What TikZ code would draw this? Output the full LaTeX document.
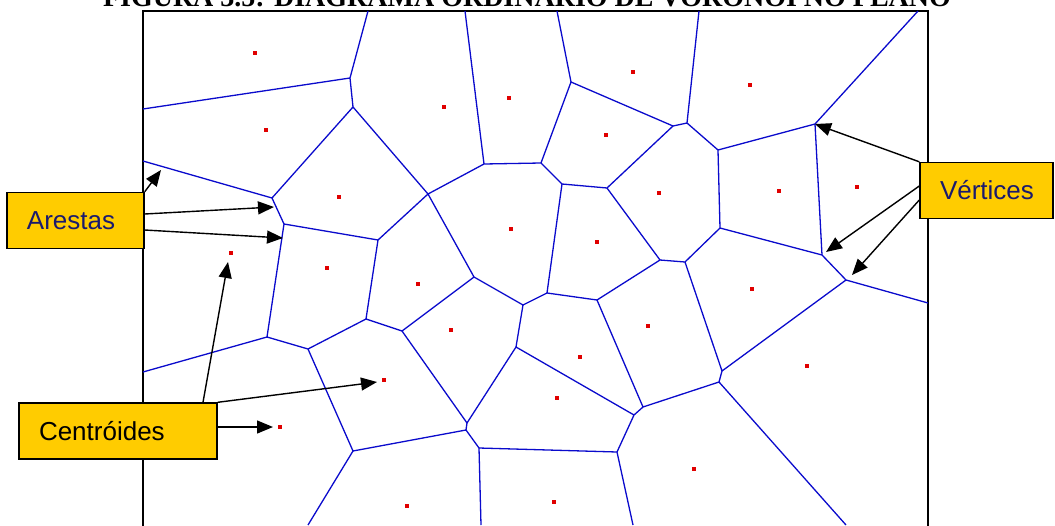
\documentclass[tikz,border=0pt]{standalone}
\usepackage{fontspec}
\setmainfont{Liberation Sans}
\newfontfamily\titlefont{Liberation Serif}
\usetikzlibrary{arrows.meta,positioning}
\usepackage{xcolor}
\definecolor{gold}{HTML}{FFCC00}
\definecolor{navy}{HTML}{1A1A6E}
\definecolor{cellblue}{HTML}{0A0ACC}
\definecolor{seedred}{HTML}{E00000}

\begin{document}
\begin{tikzpicture}[x=1pt, y=-1pt,
      edge/.style={cellblue, line width=1.3pt},
      seed/.style={fill=seedred, minimum size=4.5pt, inner sep=0pt},
      tag/.style={draw=black, line width=1.4pt, fill=gold, minimum height=56pt,
                  inner xsep=20pt, align=left, font=\fontsize{26}{30}\selectfont},
      arr/.style={-{Triangle[length=16pt,width=13pt]}, line width=1.4pt, black}
    ]
      \useasboundingbox (0,0) rectangle (1055,525);

      % title, cut at the top
      \node[font=\titlefont\bfseries\fontsize{28}{32}\selectfont, anchor=base, inner sep=0pt]
        (title) at (527,6) {FIGURA 3.5: DIAGRAMA ORDINÁRIO DE VORONOI NO PLANO};

      \draw[line width=1.6pt] (143,11) rectangle (928,545);

      % Voronoi vertices
      \coordinate (a) at (350,78);   \coordinate (b) at (353,107);
      \coordinate (c) at (484,164);  \coordinate (d) at (272,198);
      \coordinate (e) at (428,194);  \coordinate (f) at (284,224);
      \coordinate (g) at (378,240);  \coordinate (h) at (571,82);
      \coordinate (i) at (687,123);  \coordinate (j) at (673,126);
      \coordinate (k) at (541,163);  \coordinate (l) at (562,184);
      \coordinate (m) at (607,188);  \coordinate (n) at (718,150);
      \coordinate (o) at (815,124);  \coordinate (p) at (822,255);
      \coordinate (q) at (720,228);  \coordinate (r) at (660,260);
      \coordinate (s) at (685,262);  \coordinate (t) at (846,280);
      \coordinate (u) at (597,300);  \coordinate (v) at (547,293);
      \coordinate (w) at (523,305);  \coordinate (x1) at (267,337);
      \coordinate (x2) at (308,349); \coordinate (x3) at (366,319);
      \coordinate (x4) at (402,331); \coordinate (x5) at (474,277);
      \coordinate (x6) at (467,423); \coordinate (x7) at (466,430);
      \coordinate (x8) at (353,451); \coordinate (x9) at (479,448);
      \coordinate (x10) at (617,452); \coordinate (x11) at (634,415);
      \coordinate (x12) at (643,407); \coordinate (y1) at (516,347);
      \coordinate (y3) at (719,382); \coordinate (y4) at (722,371);

      % open ends on the frame
      \coordinate (top1) at (368,11);  \coordinate (top2) at (465,11);
      \coordinate (top3) at (557,11);  \coordinate (top4) at (699,11);
      \coordinate (top5) at (918,11);
      \coordinate (left1) at (143,109); \coordinate (left2) at (143,161);
      \coordinate (left3) at (143,372); \coordinate (right1) at (928,303);
      \coordinate (bot1) at (308,525); \coordinate (bot2) at (481,525);
      \coordinate (bot3) at (633,525); \coordinate (bot4) at (846,525);

      % edges
      \draw[edge] (top1) -- (a) -- (b) -- (d) -- (left2)
                  (left1) -- (a)  (b) -- (e) -- (c) -- (top2)
                  (d) -- (f) -- (g) -- (e)  (f) -- (x1) -- (left3)
                  (top3) -- (h) -- (k) -- (c)  (h) -- (j) -- (i) -- (top4)
                  (k) -- (l) -- (m) -- (j)  (i) -- (n) -- (o) -- (top5)
                  (o) -- (p) -- (t) -- (right1)  (n) -- (q) -- (p)
                  (q) -- (s) -- (r) -- (m)  (r) -- (u) -- (v) -- (l)
                  (v) -- (w) -- (x5) -- (e)  (w) -- (y1)
                  (x1) -- (x2) -- (x3) -- (g)  (x3) -- (x4) -- (x5)
                  (x4) -- (x6) -- (y1)  (x6) -- (x7) -- (x8) -- (x2)
                  (x8) -- (bot1)  (x7) -- (x9) -- (bot2)
                  (x9) -- (x10) -- (bot3)  (x10) -- (x11) -- (y1)
                  (x11) -- (x12) -- (u)  (x12) -- (y3) -- (bot4)
                  (y3) -- (y4) -- (s)  (y4) -- (t);

      % centroids
      \foreach \px/\py [count=\k] in {255/53, 266/130, 444/107, 339/197, 231/253,
          509/98, 633/72, 750/85, 606/135, 659/193, 779/191, 857/187, 511/229,
          597/242, 327/268, 418/284, 451/330, 384/380, 280/427, 407/506, 752/289,
          648/326, 580/357, 557/398, 807/366, 694/469, 554/502}
        \node[seed] (c\k) at (\px,\py) {};

      % labels
      \node[tag, text width=97pt, text=navy] (arestas) at (75.5,220.5) {Arestas};
      \node[tag, text width=93pt, text=navy] (vertices) at (986.5,190.5) {Vértices};
      \node[tag, text width=158pt] (centroides) at (118,431) {Centróides};

      \coordinate (tipA1) at (161,170);
      \coordinate (tipA2) at (274,207);
      \coordinate (tipA3) at (283,238);
      \coordinate (tipV2) at (826,252);
      \coordinate (tipV3) at (852,275);
      \coordinate (tipC1) at (228,262);
      \coordinate (tipC2) at (377,382);
      \coordinate (tipC3) at (273,427);

      \draw[arr] (arestas.north east) -- (tipA1);
      \draw[arr] ([yshift=6.5pt]arestas.east) -- (tipA2);
      \draw[arr] ([yshift=-9.5pt]arestas.east) -- (tipA3);

      \draw[arr] (vertices.north west) -- (o);
      \draw[arr] ([yshift=4.5pt]vertices.west) -- (tipV2);
      \draw[arr] ([yshift=-9.5pt]vertices.west) -- (tipV3);

      \draw[arr] ([xshift=85pt]centroides.north) -- (tipC1);
      \draw[arr] (centroides.north east) -- (tipC2);
      \draw[arr] ([yshift=4pt]centroides.east) -- (tipC3);
    \end{tikzpicture}
\end{document}
